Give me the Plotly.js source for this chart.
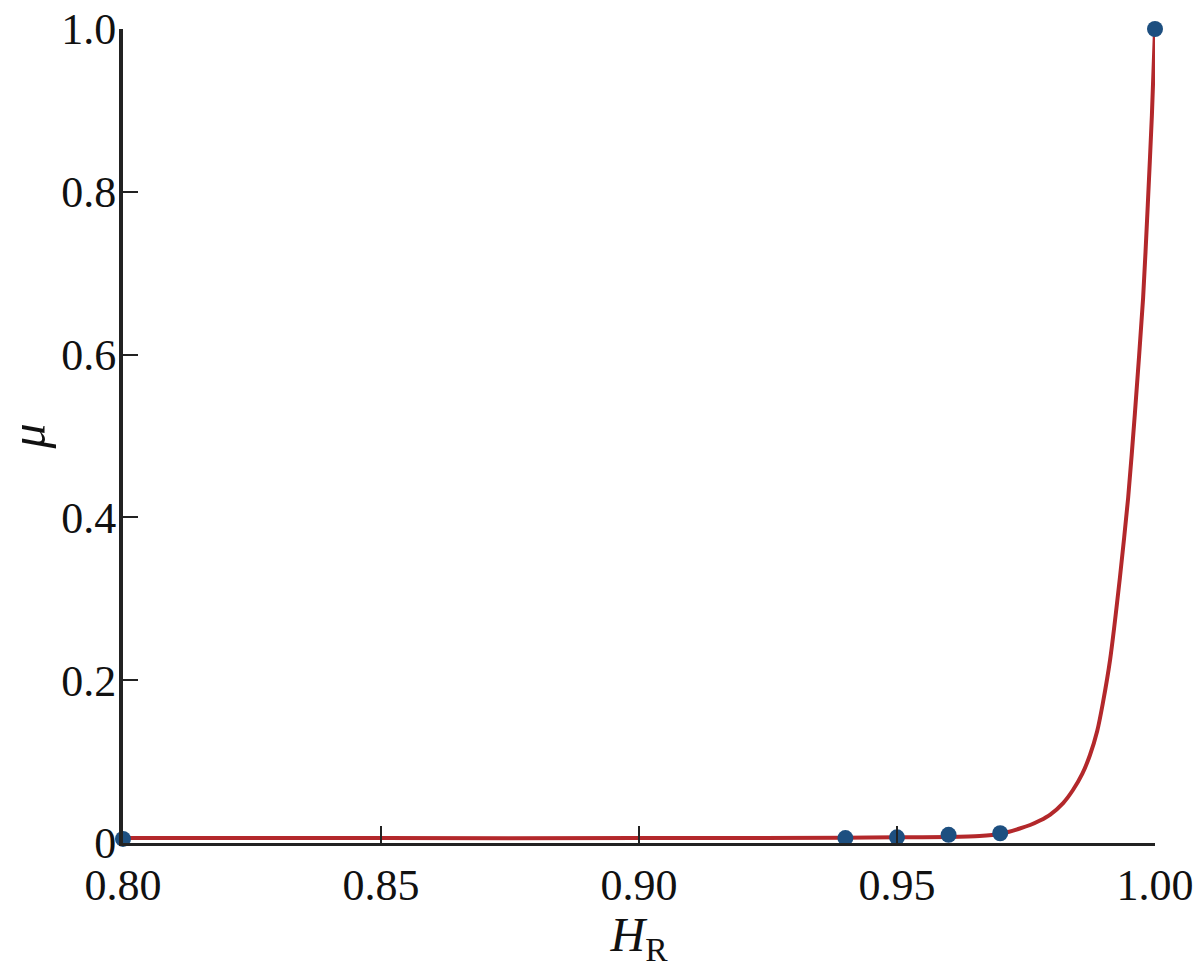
<!DOCTYPE html>
<html>
<head>
<meta charset="utf-8">
<script src="https://cdn.plot.ly/plotly-3.0.1.min.js"></script>
<style>html,body{margin:0;padding:0;background:#fff;}#chart{width:1199px;height:968px;}</style>
</head>
<body>
<div id="chart"></div>
<script>
// Measured points
const pointsHR = [0.80, 0.94, 0.95, 0.96, 0.97, 1.00];
const pointsMu = [0.005, 0.006, 0.007, 0.010, 0.012, 1.000];

// Fitted curve
const curveHR = [0.80, 0.85, 0.90, 0.94, 0.95, 0.96, 0.966, 0.9700, 0.9738, 0.9758, 0.9777, 0.9797, 0.9822, 0.9841, 0.9859, 0.9874, 0.9888, 0.9899, 0.9913, 0.9932, 0.9948, 0.9961, 0.9977, 0.9986, 0.9994, 1.000];
const curveMu = [0.006, 0.006, 0.006, 0.0065, 0.007, 0.0075, 0.0086, 0.0111, 0.0178, 0.0221, 0.0276, 0.0350, 0.0491, 0.0651, 0.0848, 0.1081, 0.1376, 0.1720, 0.2253, 0.3260, 0.4243, 0.5275, 0.6700, 0.7838, 0.8943, 1.000];

// Tick labels
const xTickVals = [0.80, 0.85, 0.90, 0.95, 1.00];
const xTickText = ["0.80", "0.85", "0.90", "0.95", "1.00"];
const yTickVals = [0, 0.2, 0.4, 0.6, 0.8, 1.0];
const yTickText = ["0", "0.2", "0.4", "0.6", "0.8", "1.0"];

const fontFam = "'Liberation Serif', 'Times New Roman', serif";

const traces = [
  {
    x: curveHR, y: curveMu, type: 'scatter', mode: 'lines',
    line: {color: '#b3282b', width: 4, shape: 'spline', smoothing: 0.6},
    cliponaxis: false, showlegend: false
  },
  {
    x: pointsHR, y: pointsMu, type: 'scatter', mode: 'markers',
    marker: {color: '#1d4f80', size: 16},
    cliponaxis: false, showlegend: false
  }
];

const layout = {
  width: 1199, height: 968,
  margin: {l: 123, r: 44, t: 29, b: 125},
  paper_bgcolor: '#ffffff', plot_bgcolor: '#ffffff',
  font: {family: fontFam, color: '#111111', size: 44},
  xaxis: {
    range: [0.80, 1.00],
    tickvals: xTickVals, ticktext: xTickText,
    ticks: 'inside', ticklen: 17, tickwidth: 2, tickcolor: '#222',
    showline: true, linecolor: '#222', linewidth: 2.5,
    showgrid: false, zeroline: false,
    ticklabelstandoff: 2,
    tickfont: {family: fontFam, size: 44, color: '#111'},
    title: {text: '<i>H</i><sub>R</sub>', font: {family: fontFam, size: 48, color: '#111'}, standoff: 6}
  },
  yaxis: {
    range: [0, 1.0],
    tickvals: yTickVals, ticktext: yTickText,
    ticks: 'inside', ticklen: 15, tickwidth: 2, tickcolor: '#222',
    showline: true, linecolor: '#222', linewidth: 4,
    showgrid: false, zeroline: false,
    ticklabelstandoff: -6,
    tickfont: {family: fontFam, size: 44, color: '#111'},
    title: {text: '<i>μ</i>', font: {family: fontFam, size: 50, color: '#111'}, standoff: 12}
  }
};

Plotly.newPlot('chart', traces, layout, {displayModeBar: false, staticPlot: true});
</script>
</body>
</html>
